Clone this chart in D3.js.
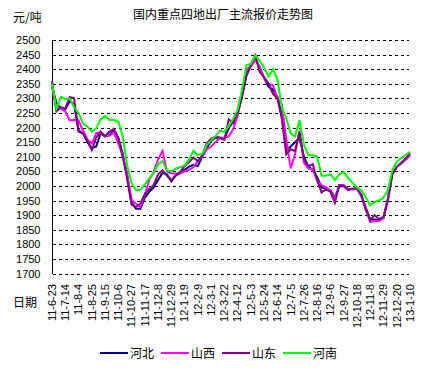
<!DOCTYPE html>
<html lang="zh">
<head>
<meta charset="utf-8">
<title>国内重点四地出厂主流报价走势图</title>
<script src="https://d3js.org/d3.v7.min.js"></script>
<style>
  body { margin: 0; background: #fff; }
  text { font-family: "Liberation Sans", Arial, sans-serif; fill: #000; }
  .cn { font-family: "Noto Sans CJK SC", sans-serif; }
</style>
</head>
<body>
<script>
// weekly quotes, first week 2011-06-23, last 2013-01-10
var startDate = "2011-06-23";

var hebei = [2340,2285,2265,2262,2290,2280,2190,2180,2150,2130,2135,2180,2170,2175,2190,2165,2110,2030,1945,1922,
  1922,1960,1980,1995,2020,2045,2040,2016,2035,2045,2055,2066,2072,2068,2100,2130,2155,2165,2165,2160,
  2200,2220,2248,2305,2380,2412,2440,2400,2370,2340,2330,2305,2240,2120,2135,2150,2165,2100,2066,2055,
  2030,1995,1990,1985,1960,1998,2000,1988,1990,1990,1970,1925,1885,1885,1883,1890,1955,2040,2065,2078,
  2090,2105];
var shanxi = [2340,2265,2265,2255,2225,2226,2225,2190,2160,2145,2180,2185,2172,2172,2183,2146,2105,2045,1952,1940,
  1928,1970,2020,2048,2090,2120,2050,2043,2043,2043,2050,2055,2065,2085,2100,2125,2135,2150,2165,2165,
  2170,2195,2240,2320,2400,2410,2430,2410,2368,2350,2345,2300,2280,2160,2060,2110,2190,2080,2060,2055,
  2020,2003,1995,1985,1955,2003,2003,1990,1988,1990,1965,1920,1877,1880,1880,1890,1960,2040,2065,2080,
  2090,2106];
var shandong = [2360,2255,2270,2265,2305,2300,2186,2180,2155,2123,2165,2186,2170,2186,2195,2165,2100,2025,1935,1928,
  1940,1972,1990,2003,2040,2054,2035,2020,2037,2048,2068,2082,2097,2085,2105,2145,2162,2168,2165,2157,
  2228,2215,2250,2310,2378,2415,2447,2390,2372,2350,2315,2300,2230,2108,2125,2120,2185,2090,2068,2075,
  2018,1978,1988,1980,1942,2003,2000,1986,1990,1995,1965,1920,1883,1900,1886,1894,1950,2040,2065,2078,
  2095,2111];
var henan = [2350,2265,2305,2297,2300,2270,2250,2215,2203,2186,2197,2228,2240,2226,2226,2220,2170,2070,2010,1986,
  1986,2005,2025,2043,2075,2085,2054,2050,2060,2064,2070,2090,2120,2106,2110,2140,2157,2170,2190,2185,
  2205,2230,2262,2330,2414,2418,2448,2428,2405,2375,2400,2365,2270,2232,2180,2170,2225,2140,2106,2106,
  2100,2035,2035,2040,2020,2040,2048,2028,2010,1995,1985,1960,1934,1945,1950,1960,1985,2055,2083,2095,
  2106,2117];

var seriesNames = ["河北", "山西", "山东", "河南"];
var seriesColors = ["#000080", "#ff00ff", "#800080", "#00ff00"];
var dateLabels = ["11-6-23","11-7-14","11-8-4","11-8-25","11-9-15","11-10-6","11-10-27","11-11-17",
  "11-12-8","11-12-29","12-1-19","12-2-9","12-3-1","12-3-22","12-4-12","12-5-3","12-5-24","12-6-14",
  "12-7-5","12-7-26","12-8-16","12-9-6","12-9-27","12-10-18","12-11-8","12-11-29","12-12-20","13-1-10"];
var yTicks = [1700,1750,1800,1850,1900,1950,2000,2050,2100,2150,2200,2250,2300,2350,2400,2450,2500];

var w = 433, h = 370;
var svg = d3.select("body").append("svg").attr("width", w).attr("height", h);

var t0 = d3.timeParse("%Y-%m-%d")(startDate);
var dates = hebei.map(function(d, i) { return d3.timeDay.offset(t0, i * 7); });
var parseLabel = d3.timeParse("%y-%m-%d");

var x = d3.scaleTime()
  .domain([t0, dates[dates.length - 1]])
  .range([52, 410]);
var y = d3.scaleLinear().domain([1700, 2500]).range([273.5, 40]);

// title + units
svg.append("text").attr("class", "cn").attr("x", 223).attr("y", 19)
  .attr("text-anchor", "middle").style("font-size", "12px").text("国内重点四地出厂主流报价走势图");
svg.append("text").attr("class", "cn").attr("x", 13).attr("y", 22)
  .style("font-size", "12px").text("元/吨");

// dashed grid
svg.append("g").selectAll("line").data(yTicks).enter().append("line")
  .attr("x1", 53).attr("x2", 409)
  .attr("y1", function(d) { return Math.round(y(d)) + 0.5; })
  .attr("y2", function(d) { return Math.round(y(d)) + 0.5; })
  .attr("stroke", "#000").attr("stroke-dasharray", "3,3")
  .attr("shape-rendering", "crispEdges");

// y axis
var yAxis = svg.append("g").attr("transform", "translate(52.5,0)")
  .call(d3.axisLeft(y).tickValues(yTicks).tickFormat(d3.format("d")).tickSize(0).tickPadding(12));
yAxis.select(".domain").attr("stroke", "#000").attr("shape-rendering", "crispEdges")
  .attr("d", "M0," + y(2500) + "V" + y(1700));
yAxis.selectAll("text").style("font-family", "Liberation Sans, Arial, sans-serif").style("font-size", "11px");

// x labels (vertical)
svg.append("g").selectAll("text").data(dateLabels).enter().append("text")
  .attr("transform", function(d) { return "translate(" + x(parseLabel(d)) + ",284) rotate(-90)"; })
  .attr("text-anchor", "end").attr("dy", "0.35em")
  .style("font-size", "11px").text(function(d) { return d; });

svg.append("text").attr("class", "cn").attr("x", 13).attr("y", 307)
  .style("font-size", "12px").text("日期");

// lines
var line = d3.line()
  .x(function(d, i) { return x(dates[i]); })
  .y(function(d) { return y(d); });

[hebei, shanxi, shandong, henan].forEach(function(s, k) {
  svg.append("path").datum(s)
    .attr("d", line)
    .attr("fill", "none")
    .attr("stroke", seriesColors[k])
    .attr("stroke-width", 2);
});

// legend
var legendX = [100, 161, 222, 283];
var lg = svg.append("g").selectAll("g").data(seriesNames).enter().append("g")
  .attr("transform", function(d, i) { return "translate(" + legendX[i] + ",353)"; });
lg.append("line").attr("x1", 0).attr("x2", 28).attr("y1", 0).attr("y2", 0)
  .attr("stroke", function(d, i) { return seriesColors[i]; }).attr("stroke-width", 2);
lg.append("text").attr("class", "cn").attr("x", 30).attr("y", 5)
  .style("font-size", "12px").text(function(d) { return d; });
</script>
</body>
</html>
